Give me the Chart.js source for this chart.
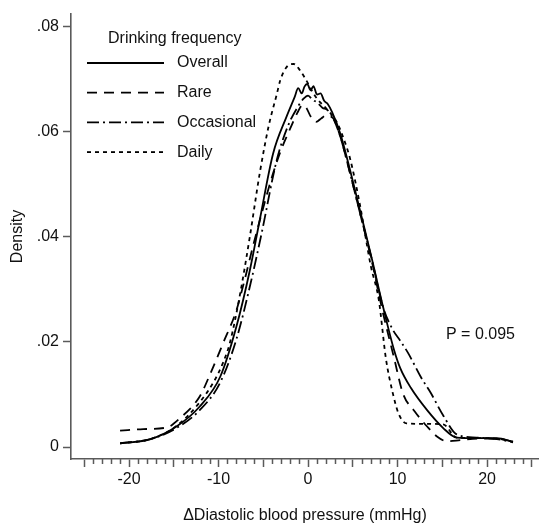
<!DOCTYPE html>
<html>
<head>
<meta charset="utf-8">
<style>
  html, body { margin: 0; padding: 0; background: #fff; }
  #chart { display: block; }
</style>
</head>
<body>
<canvas id="chart" width="539" height="525"></canvas>
<script src="https://cdn.jsdelivr.net/npm/chart.js@4.4.1/dist/chart.umd.min.js"></script>
<script>
// Values: x = change in diastolic BP (mmHg), y = density
const overallX = [-21, -17.6, -14.7, -12.1, -9.8, -8.0, -6.5, -5.4, -3.9, -2.4, -1.5, -1.1, -0.7, -0.4, -0.1, 0.3, 0.6, 1.0, 1.4, 1.8, 2.2, 2.7, 3.6, 4.7, 5.8, 7.1, 8.4, 9.6, 10.3, 11.5, 13.3, 15.1, 16.6, 18.8, 21.1, 22.9];
const overallY = [.0007, .0015, .0039, .0077, .0134, .0229, .0336, .0431, .0558, .0628, .0665, .0682, .0672, .0685, .0690, .0678, .0686, .0670, .0672, .0658, .0652, .0636, .0596, .0526, .0450, .0360, .0265, .0185, .0150, .0112, .0070, .0036, .0018, .0017, .0017, .0010];

const rareX = [-21, -18.4, -15.8, -14.3, -12.1, -10.9, -9.5, -8.0, -7.2, -6.1, -5.0, -4.0, -3.0, -2.0, -1.2, -0.6, -0.2, 0.3, 0.9, 1.5, 2.0, 2.8, 3.6, 4.7, 5.8, 7.1, 8.3, 9.6, 10.6, 11.9, 13.3, 14.4, 15.5, 17.0, 19.0, 21.0, 22.9];
const rareY = [.0031, .0034, .0037, .0055, .0096, .0140, .0197, .0260, .0310, .0385, .0455, .0515, .0565, .0605, .0635, .0650, .0645, .0628, .0618, .0625, .0630, .0625, .0590, .0520, .0445, .0355, .0260, .0170, .0102, .0068, .0039, .0020, .0011, .0013, .0016, .0016, .0010];

const occasionalX = [-21, -17.6, -14.7, -12.1, -9.8, -8.0, -6.5, -5.2, -3.5, -2.2, -1.2, -0.5, 0.0, 0.5, 1.0, 1.6, 2.2, 2.8, 3.6, 4.7, 5.8, 7.1, 8.4, 9.5, 10.3, 11.2, 12.6, 13.7, 15.1, 16.6, 18.8, 21.1, 22.9];
const occasionalY = [.0007, .0015, .0036, .0070, .0123, .0205, .0305, .0405, .0545, .0612, .0645, .0662, .0668, .0660, .0655, .0645, .0640, .0625, .0590, .0520, .0445, .0358, .0265, .0222, .0202, .0178, .0133, .0103, .0060, .0024, .0018, .0015, .0009];

const dailyX = [-21, -17.6, -14.7, -12.1, -10.5, -9.5, -8.7, -7.6, -6.5, -5.4, -4.4, -3.5, -3.1, -2.4, -1.6, -0.9, -0.2, 0.5, 1.0, 2.1, 3.2, 4.0, 4.7, 5.8, 7.0, 7.9, 8.7, 9.5, 10.1, 11.0, 13.0, 15.1, 16.6, 18.8, 21.1, 22.9];
const dailyY = [.0007, .0015, .0040, .0085, .0125, .0160, .0200, .0290, .0400, .0520, .0610, .0670, .0697, .0722, .0728, .0716, .0697, .0675, .0662, .0642, .0618, .0585, .0548, .0460, .0345, .0280, .0168, .0100, .0064, .0045, .0044, .0043, .0018, .0017, .0016, .0010];

const seriesNames = ['Overall', 'Rare', 'Occasional', 'Daily'];
const yTickValues = [0, 0.02, 0.04, 0.06, 0.08];
const xTickLabels = [-20, -10, 0, 10, 20];
const legendTitle = 'Drinking frequency';
const pValueText = 'P = 0.095';

const FONT = "'Liberation Sans', Arial, Helvetica, sans-serif";
const AXIS_GREY = '#5a5a5a';

function toPoints(xs, ys) {
  return xs.map((x, i) => ({ x: x, y: ys[i] }));
}

const dashes = [[], [10, 7], [12, 4, 2, 4], [4, 4]];
const seriesData = [
  toPoints(overallX, overallY),
  toPoints(rareX, rareY),
  toPoints(occasionalX, occasionalY),
  toPoints(dailyX, dailyY)
];

// minor x ticks, the in-plot legend and the p value
const extrasPlugin = {
  id: 'extras',
  afterDraw(chart) {
    const ctx = chart.ctx;
    const xScale = chart.scales.x;
    const bottom = chart.chartArea.bottom;

    ctx.save();
    ctx.strokeStyle = AXIS_GREY;
    ctx.lineWidth = 1.5;
    for (let v = -25; v <= 25; v++) {
      if (v % 5 === 0) continue;
      const px = Math.round(xScale.getPixelForValue(v)) + 0.5;
      ctx.beginPath();
      ctx.moveTo(px, bottom);
      ctx.lineTo(px, bottom + 5);
      ctx.stroke();
    }

    // legend
    ctx.fillStyle = '#111';
    ctx.font = '16px ' + FONT;
    ctx.textBaseline = 'middle';
    ctx.textAlign = 'left';
    ctx.fillText(legendTitle, 108, 39);
    chart.data.datasets.forEach((ds, i) => {
      const y = 63 + i * 29.7;
      ctx.strokeStyle = '#000';
      ctx.lineWidth = ds.borderWidth;
      ctx.setLineDash(ds.borderDash);
      ctx.beginPath();
      ctx.moveTo(87, y);
      ctx.lineTo(164, y);
      ctx.stroke();
      ctx.setLineDash([]);
      ctx.fillText(ds.label, 177, y);
    });

    ctx.fillText(pValueText, 446, 335);
    ctx.restore();
  }
};

new Chart(document.getElementById('chart'), {
  type: 'line',
  data: {
    datasets: seriesNames.map((name, i) => ({
      label: name,
      data: seriesData[i],
      borderColor: '#000',
      borderWidth: 1.8,
      borderDash: dashes[i],
      pointRadius: 0,
      fill: false,
      cubicInterpolationMode: 'monotone'
    }))
  },
  options: {
    responsive: false,
    animation: false,
    devicePixelRatio: 1,
    layout: { padding: { top: 14, right: 0, bottom: 0, left: 0 } },
    plugins: {
      legend: { display: false },
      tooltip: { enabled: false }
    },
    scales: {
      x: {
        type: 'linear',
        min: -26.48,
        max: 25.8,
        afterFit: s => { s.height = 66; },
        afterBuildTicks: s => {
          const t = [];
          for (let v = -25; v <= 25; v += 5) t.push({ value: v });
          s.ticks = t;
        },
        border: { display: true, color: AXIS_GREY, width: 1.6 },
        grid: {
          drawOnChartArea: false,
          drawTicks: true,
          tickLength: 8,
          tickColor: AXIS_GREY,
          tickWidth: 1.5
        },
        ticks: {
          autoSkip: false,
          maxRotation: 0,
          padding: 3,
          color: '#111',
          font: { family: FONT, size: 16 },
          callback: v => (xTickLabels.includes(v) ? String(v) : '')
        },
        title: {
          display: true,
          text: '\u0394Diastolic blood pressure (mmHg)',
          color: '#111',
          font: { family: FONT, size: 16 },
          padding: { top: 0, bottom: 0 }
        }
      },
      y: {
        min: -0.00228,
        max: 0.0823,
        afterFit: s => { s.width = 71; },
        afterBuildTicks: s => { s.ticks = yTickValues.map(v => ({ value: v })); },
        border: { display: true, color: AXIS_GREY, width: 1.6 },
        grid: {
          drawOnChartArea: false,
          drawTicks: true,
          tickLength: 8,
          tickColor: AXIS_GREY,
          tickWidth: 1.5
        },
        ticks: {
          padding: 4,
          color: '#111',
          font: { family: FONT, size: 16 },
          callback: v => (v === 0 ? '0' : '.' + String(Math.round(v * 100)).padStart(2, '0'))
        },
        title: {
          display: true,
          text: 'Density',
          color: '#111',
          font: { family: FONT, size: 16 },
          padding: { top: 8, bottom: 0 }
        }
      }
    }
  },
  plugins: [extrasPlugin]
});
</script>
</body>
</html>
